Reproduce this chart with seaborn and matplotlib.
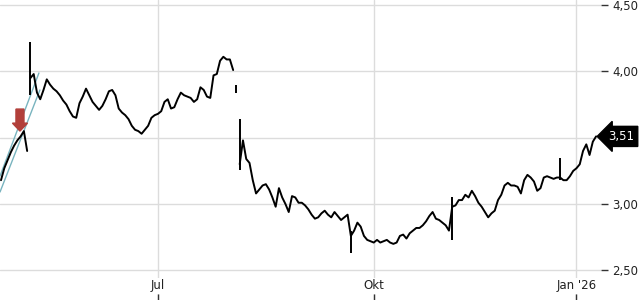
import matplotlib
matplotlib.use("Agg")
import matplotlib.pyplot as plt
import matplotlib.transforms as mtransforms
import numpy as np
import pandas as pd
import seaborn as sns

# ---------------- data ----------------
start_date = "2025-04-23"
exchange_holidays = ["2025-05-01", "2025-12-24", "2025-12-25", "2025-12-26",
                     "2025-12-31", "2026-01-01"]

close = [
    3.18, 3.27, 3.33, 3.39, 3.44, 3.48, 3.51, 3.55, 3.40, 3.95,
    3.98, 3.84, 3.79, 3.86, 3.94, 3.90, 3.87, 3.85, 3.82, 3.78,
    3.75, 3.70, 3.66, 3.65, 3.76, 3.81, 3.87, 3.82, 3.77, 3.74,
    3.71, 3.74, 3.79, 3.85, 3.86, 3.82, 3.72, 3.69, 3.67, 3.64,
    3.59, 3.56, 3.55, 3.53, 3.56, 3.59, 3.65, 3.67, 3.68, 3.70,
    3.77, 3.79, 3.72, 3.73, 3.79, 3.84, 3.82, 3.81, 3.80, 3.77,
    3.79, 3.88, 3.86, 3.81, 3.80, 3.97, 3.98, 4.08, 4.11, 4.09,
    4.09, 4.01, 3.87, 3.30, 3.48, 3.34, 3.31, 3.18, 3.08, 3.11,
    3.14, 3.15, 3.11, 3.05, 2.98, 3.12, 3.05, 3.00, 2.94, 3.06,
    3.05, 3.01, 3.01, 2.99, 2.96, 2.92, 2.89, 2.90, 2.93, 2.95,
    2.92, 2.90, 2.94, 2.91, 2.88, 2.90, 2.92, 2.76, 2.80, 2.86,
    2.83, 2.76, 2.73, 2.72, 2.71, 2.73, 2.71, 2.72, 2.73, 2.71,
    2.70, 2.71, 2.76, 2.77, 2.74, 2.78, 2.80, 2.82, 2.82, 2.84,
    2.87, 2.91, 2.94, 2.89, 2.88, 2.86, 2.84, 2.80, 2.98, 2.99,
    3.03, 3.03, 3.07, 3.05, 3.10, 3.06, 3.01, 2.98, 2.94, 2.90,
    2.93, 2.95, 3.03, 3.07, 3.14, 3.16, 3.14, 3.14, 3.13, 3.08,
    3.18, 3.22, 3.20, 3.17, 3.10, 3.12, 3.20, 3.21, 3.20, 3.19,
    3.20, 3.20, 3.18, 3.18, 3.21, 3.25, 3.27, 3.30, 3.40, 3.45,
    3.37, 3.47, 3.51,
]
# trading gaps (line is broken after these days)
gap_after = [8, 71, 72]

# intraday spikes (day index, low, high)
spike_day = [9, 72, 73, 107, 138, 171]
spike_low = [3.82, 3.84, 3.26, 2.63, 2.73, 3.18]
spike_high = [4.22, 3.90, 3.64, 2.80, 3.05, 3.35]

# trend channel (two parallel lines) endpoints: (day, price)
channel_x = [[-0.3, 11.6], [-0.3, 11.9]]
channel_y = [[3.211, 3.988], [3.091, 3.860]]

# signal arrow
signal_day = 5.8
signal_top = 3.716
signal_tip = 3.550

month_ticks = {7: "Jul", 10: "Okt", 1: "Jan '26"}
y_ticks = [2.50, 3.00, 3.50, 4.00, 4.50]

# ---------------- build frame ----------------
dates = pd.bdate_range(start=start_date, periods=len(close), freq="C",
                       holidays=exchange_holidays)
df = pd.DataFrame({"date": dates, "day": np.arange(len(close)), "close": close})
brk = np.zeros(len(close), dtype=int)
for g in gap_after:
    brk[g + 1] = 1
df["seg"] = np.cumsum(brk)

tick_pos, tick_lab = [], []
for i in range(1, len(dates)):
    if dates[i].month != dates[i - 1].month and dates[i].month in month_ticks:
        tick_pos.append(i)
        tick_lab.append(month_ticks[dates[i].month])

def fmt(v):
    return f"{v:.2f}".replace(".", ",")

last = close[-1]
# the last-price tag covers the tick label next to it
y_labels = ["" if abs(v - last) < 0.08 else fmt(v) for v in y_ticks]

# ---------------- plot ----------------
sns.set_style("white")
plt.rcParams["font.family"] = ["DejaVu Sans"]

fig = plt.figure(figsize=(6.4, 3.0), dpi=100)
ax = fig.add_axes([0.0, 0.0, 601 / 640, 1.0])

grid_c = "#dcdcdc"
for yv in y_ticks:
    ax.axhline(yv, color=grid_c, lw=1.0, zorder=0)
for xv in tick_pos:
    ax.axvline(xv, color=grid_c, lw=1.0, zorder=0)

# trend channel
for cx, cy in zip(channel_x, channel_y):
    ax.plot(cx, cy, color="#79b4bf", lw=1.0, zorder=2)

sns.lineplot(data=df, x="day", y="close", units="seg", estimator=None,
             color="black", lw=1.4, ax=ax, zorder=3, legend=False)
ax.vlines(spike_day, spike_low, spike_high, color="black", lw=1.4, zorder=3)

# signal arrow
ax.arrow(signal_day, signal_top, 0, signal_tip - signal_top, width=2.45,
         head_width=4.6, head_length=0.06, length_includes_head=True,
         color="#b23f3a", zorder=4)

ax.set_xlim(-0.306, 183.5)
ax.set_ylim(2.277, 4.538)

for s in ax.spines.values():
    s.set_visible(False)

ax.yaxis.tick_right()
ax.set_yticks(y_ticks)
ax.set_yticklabels(y_labels)
ax.tick_params(axis="y", right=True, direction="out", length=5, width=1,
               color="#333333", pad=3, labelsize=8.5, labelcolor="#222222")

ax.set_xticks(tick_pos)
ax.set_xticklabels(tick_lab)
ax.tick_params(axis="x", bottom=True, direction="in", length=4, width=1,
               color="#333333", pad=-15, labelsize=8.5, labelcolor="#222222")
for lab in ax.get_xticklabels():
    lab.set_bbox(dict(facecolor="white", edgecolor="none", pad=1.0))

ax.set_xlabel("")
ax.set_ylabel("")

# last price tag
trans = mtransforms.blended_transform_factory(ax.transAxes, ax.transData)
ax.text(1.012, last, fmt(last), transform=trans,
        ha="left", va="center", color="white", fontsize=8.5, zorder=6,
        clip_on=False,
        bbox=dict(boxstyle="larrow,pad=0.3", fc="black", ec="black"))

fig.savefig("out.png", dpi=100)
